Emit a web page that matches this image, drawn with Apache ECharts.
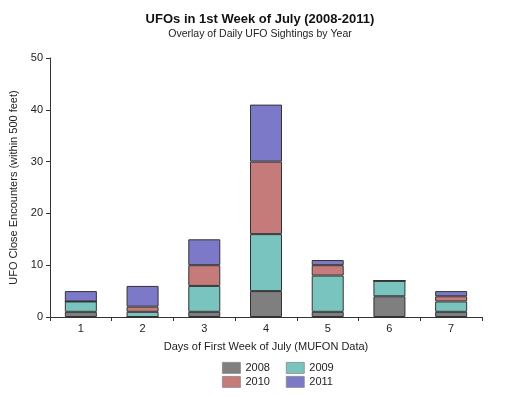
<!DOCTYPE html>
<html><head><meta charset="utf-8">
<script src="https://cdn.jsdelivr.net/npm/echarts@6/dist/echarts.min.js"></script>
<style>html,body{margin:0;padding:0;background:#fff}#c{width:520px;height:397px}</style>
</head><body><div id="c"></div>
<script>
const days = ['1','2','3','4','5','6','7'];
const y2008 = [1, 0, 1, 5, 1, 4, 1];
const y2009 = [2, 1, 5, 11, 7, 3, 2];
const y2010 = [0, 1, 4, 14, 2, 0, 1];
const y2011 = [2, 4, 5, 11, 1, 0, 1];
const yTicks = [0, 10, 20, 30, 40, 50];

const names = ['2008','2009','2010','2011'];
const colors = ['#7f7f7f','#79c4be','#c67b7b','#7b79c8'];
const vals = [y2008, y2009, y2010, y2011];

const chart = echarts.init(document.getElementById('c'));
const legendBase = {left: 217, itemWidth: 18, itemHeight: 11, itemGap: 16, icon: 'rect',
  itemStyle: {borderColor: '#888', borderWidth: 0.8},
  textStyle: {fontFamily: 'Liberation Sans, Arial', fontSize: 11, color: '#222'}};
chart.setOption({
  backgroundColor: '#fff',
  animation: false,
  title: [{
    text: 'UFOs in 1st Week of July (2008-2011)',
    subtext: 'Overlay of Daily UFO Sightings by Year',
    left: 'center', top: 8, itemGap: 3,
    textStyle: {fontFamily: 'Liberation Sans, Arial', fontSize: 13, fontWeight: 'bold', color: '#111'},
    subtextStyle: {fontFamily: 'Liberation Sans, Arial', fontSize: 10.5, color: '#222'}
  }],
  legend: [
    Object.assign({data: ['2008','2009'], top: 357}, legendBase),
    Object.assign({data: ['2010','2011'], top: 371}, legendBase)
  ],
  grid: {left: 50, right: 38, top: 58, bottom: 80},
  xAxis: {
    type: 'category', data: days,
    name: 'Days of First Week of July (MUFON Data)', nameLocation: 'middle', nameGap: 24,
    nameTextStyle: {fontFamily: 'Liberation Sans, Arial', fontSize: 11, color: '#222'},
    axisLine: {lineStyle: {color: '#333'}},
    axisTick: {show: true, length: 4, lineStyle: {color: '#333'}},
    axisLabel: {fontFamily: 'Liberation Sans, Arial', fontSize: 11, color: '#222', margin: 6}
  },
  yAxis: {
    type: 'value', min: yTicks[0], max: yTicks[yTicks.length-1], interval: 10,
    name: 'UFO Close Encounters (within 500 feet)', nameLocation: 'middle', nameGap: 25,
    nameTextStyle: {fontFamily: 'Liberation Sans, Arial', fontSize: 11, color: '#222'},
    axisLine: {show: true, lineStyle: {color: '#333'}},
    axisTick: {show: true, length: 4, lineStyle: {color: '#333'}},
    axisLabel: {fontFamily: 'Liberation Sans, Arial', fontSize: 11, color: '#222', margin: 7},
    splitLine: {show: false}
  },
  series: names.map((n, i) => ({
    name: n, type: 'bar', stack: 'all', barWidth: 32,
    data: vals[i],
    itemStyle: {color: colors[i], borderColor: '#333', borderWidth: 1}
  }))
});
</script></body></html>
